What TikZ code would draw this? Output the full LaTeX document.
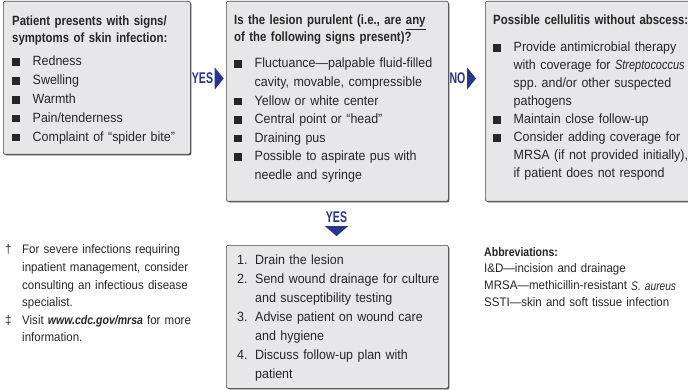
\documentclass[tikz,border=0pt]{standalone}
\usepackage{fontspec}
\setmainfont{Liberation Sans}[FakeStretch=0.93,BoldFeatures={FakeStretch=0.85},
  ItalicFeatures={FakeStretch=0.82},BoldItalicFeatures={FakeStretch=0.85}]
\usepackage{graphicx}
\usetikzlibrary{shadows}

\definecolor{boxfill}{RGB}{231,231,233}
\definecolor{boxline}{RGB}{72,72,72}
\definecolor{flowblue}{RGB}{40,55,140}
\definecolor{bodytext}{RGB}{38,38,38}

\newlength{\bulind}
\setlength{\bulind}{20.5pt}
% item heads (no \par) and items (with \par)
\newcommand{\sqhead}{\hangindent=\bulind\hangafter=1\noindent\makebox[\bulind][l]{\rule{7.5pt}{7.5pt}}}
\newcommand{\numhead}[1]{\hangindent=18pt\hangafter=1\noindent\makebox[18pt][l]{#1}}
\newcommand{\fnhead}[1]{\hangindent=17pt\hangafter=1\noindent\makebox[17pt][l]{#1}}
\newcommand{\sqitem}{\par\sqhead}
\newcommand{\numitem}[1]{\par\numhead{#1}}
\newcommand{\fnitem}[1]{\par\fnhead{#1}}
\newcommand{\boxhead}{\fontsize{13.4}{17}\selectfont\bfseries}

\tikzset{
  box/.style={draw=boxline, fill=boxfill, line width=0.6pt, rounded corners=2pt,
    anchor=north west, inner sep=0pt,
    drop shadow={shadow xshift=1pt, shadow yshift=-1pt, fill=boxline, opacity=1}},
  boxtext/.style={anchor=base west, inner sep=0pt, text width=240pt, align=left,
    text=bodytext, font=\fontsize{13.4}{#1}\selectfont},
  boxtext/.default=18.6,
  notetext/.style={anchor=base west, inner sep=0pt, text width=240pt, align=left,
    text=bodytext, font=\fontsize{12.4}{#1}\selectfont},
  flowlabel/.style={inner sep=0pt, text=flowblue, font=\fontsize{15.5}{16}\selectfont\bfseries},
  flowtip/.style={fill=flowblue}
}

\begin{document}
\begin{tikzpicture}[x=1pt,y=-1pt]

  \useasboundingbox (0,0) rectangle (688,390);

  % boxes
  \node[box, minimum width=187pt, minimum height=153pt] (symptBox) at (3,1) {};
  \node[box, minimum width=222pt, minimum height=200pt] (lesionBox) at (226,1) {};
  \node[box, minimum width=215pt, minimum height=200pt] (cellBox) at (485,1) {};
  \node[box, minimum width=222pt, minimum height=143pt] (drainBox) at (226,245) {};

  % box contents
  \node[boxtext=18.8] (symptText) at (12,26) {{\boxhead Patient presents with signs/\newline
      symptoms of skin infection:\par}\vspace{4.2pt}
    \sqitem Redness
    \sqitem Swelling
    \sqitem Warmth
    \sqitem Pain/tenderness
    \sqitem Complaint of ``spider bite''\par};

  \node[boxtext=18.6] (lesionText) at (234,25) {{\boxhead Is the lesion purulent (i.e., are \underline{any}\newline
      of the following signs present)?\par}\vspace{7.4pt}
    \sqitem Fluctuance---palpable fluid-filled\newline cavity, movable, compressible
    \sqitem Yellow or white center
    \sqitem Central point or ``head''
    \sqitem Draining pus
    \sqitem Possible to aspirate pus with\newline needle and syringe\par};

  \node[boxtext=18] (cellText) at (493,25) {{\boxhead Possible cellulitis without abscess:\par}\vspace{9pt}
    \sqitem Provide antimicrobial therapy\newline with coverage for \textit{Streptococcus}\newline
      spp.\ and/or other suspected\newline pathogens
    \sqitem Maintain close follow-up
    \sqitem Consider adding coverage for\newline MRSA (if not provided initially),\newline
      if patient does not respond\par};

  \node[boxtext=18.9] (drainText) at (237,265) {\numhead{1.}Drain the lesion
    \numitem{2.}Send wound drainage for culture\newline and susceptibility testing
    \numitem{3.}Advise patient on wound care\newline and hygiene
    \numitem{4.}Discuss follow-up plan with\newline patient\par};

  % notes
  \node[notetext=17.6] (footnotes) at (5,254) {\fnhead{†}For severe infections requiring\newline
      inpatient management, consider\newline consulting an infectious disease\newline specialist.
    \fnitem{‡}Visit \textbf{\textit{www.cdc.gov/mrsa}} for more\newline information.\par};

  \node[notetext=17] (abbrev) at (484,256) {\textbf{Abbreviations:}\newline
    I\&D---incision and drainage\newline
    MRSA---methicillin-resistant \textit{S. aureus}\newline
    SSTI---skin and soft tissue infection};

  % decisions
  \node[flowlabel] (yesRight) at (202.5,78.5) {\scalebox{0.8}[1]{YES}};
  \node[flowlabel] (noRight) at (457.5,78.5) {\scalebox{0.8}[1]{NO}};
  \node[flowlabel] (yesDown) at (336.5,217.5) {\scalebox{0.8}[1]{YES}};

  \fill[flowtip] (yesRight.east) ++(1.5,-11) -- ++(0,22) -- ++(9,-11) -- cycle;
  \fill[flowtip] (noRight.east) ++(1.5,-11) -- ++(0,22) -- ++(9,-11) -- cycle;
  \fill[flowtip] (yesDown.south) ++(-11.5,3) -- ++(23,0) -- ++(-11.5,10) -- cycle;

\end{tikzpicture}
\end{document}
